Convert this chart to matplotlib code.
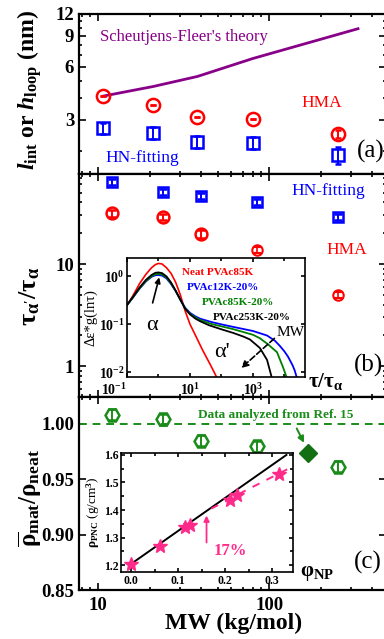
import numpy as np
import matplotlib
matplotlib.use("Agg")
import matplotlib.pyplot as plt
from matplotlib.ticker import FixedLocator, NullFormatter, FuncFormatter

plt.rcParams['font.family'] = ['Liberation Serif', 'DejaVu Serif']
plt.rcParams['font.weight'] = 'bold'
plt.rcParams['mathtext.fontset'] = 'custom'
plt.rcParams['mathtext.rm'] = 'Liberation Serif:bold'
plt.rcParams['mathtext.it'] = 'Liberation Serif:italic:bold'
plt.rcParams['mathtext.bf'] = 'Liberation Serif:bold'

# ---- data ----
# panel (a)
mw_a = [10.7, 21, 38, 80, 253]
hma_a = [4.1, 3.65, 3.12, 3.04, 2.5]
hma_a_err = [0, 0, 0, 0, 0.12]
hn_a = [2.7, 2.53, 2.25, 2.22, 1.9]
hn_a_err = [0.2, 0.2, 0.18, 0.18, 0.22]
theory_mw = [10.7, 21, 38, 80, 330]
theory_h = [4.1, 4.65, 5.3, 6.7, 9.9]

# panel (b)
mw = [12, 24, 40, 85, 253]
hn_b = [63.7, 50.8, 46.4, 40.5, 28.9]
hn_b_err = [4, 3, 3, 2.5, 2]
hma_b = [31.6, 28.9, 19.7, 13.7, 4.97]
hma_b_err = [2.5, 2.2, 1.8, 1.0, 0.35]

# inset (b): relaxation time distributions
tau_red = [0.1, 0.15, 0.25, 0.4, 0.6, 0.8, 1.0, 1.3, 1.8, 2.5, 3.5, 5, 7, 10, 15, 25, 45, 75]
g_red = [0.25, 0.38, 0.7, 1.1, 1.5, 1.75, 1.85, 1.8, 1.5, 1.15, 0.75, 0.4, 0.19, 0.1, 0.058, 0.029, 0.014, 0.0072]
tau_blu = [0.1, 0.15, 0.25, 0.4, 0.6, 0.8, 1.0, 1.3, 1.8, 2.5, 3.5, 5, 7, 10, 15, 21, 50, 100, 230,
           1000, 2800, 5000, 7200, 10000, 13000, 18000, 21000, 25000]
g_blu = [0.25, 0.35, 0.55, 0.78, 0.97, 1.05, 1.06, 1.03, 0.9, 0.69, 0.49, 0.32, 0.22, 0.172, 0.145, 0.13, 0.11,
         0.099, 0.088, 0.072, 0.058, 0.045, 0.035, 0.027, 0.021, 0.014, 0.011, 0.0075]
tau_grn = [0.1, 0.15, 0.25, 0.4, 0.6, 0.8, 1.0, 1.3, 1.8, 2.5, 3.5, 5, 7, 10, 15, 21, 50, 100, 230,
           1000, 1650, 3000, 5800, 9000, 12000]
g_grn = [0.25, 0.355, 0.56, 0.8, 1.0, 1.1, 1.12, 1.09, 0.94, 0.71, 0.5, 0.32, 0.215, 0.165, 0.138, 0.122, 0.1,
         0.09, 0.079, 0.06, 0.051, 0.038, 0.026, 0.0127, 0.0075]
tau_blk = [0.1, 0.15, 0.25, 0.4, 0.6, 0.8, 1.0, 1.3, 1.8, 2.5, 3.5, 5, 7, 10, 15, 21, 40, 100, 230,
           500, 800, 1650, 2800, 4000]
g_blk = [0.25, 0.36, 0.58, 0.84, 1.06, 1.18, 1.2, 1.16, 0.99, 0.74, 0.5, 0.32, 0.21, 0.16, 0.13, 0.115, 0.095,
         0.078, 0.066, 0.055, 0.048, 0.032, 0.018, 0.0075]

# panel (c)
rho_ratio = [1.0081, 1.0042, 0.985, 0.9796, 0.9615]
rho_err = [0.005, 0.005, 0.005, 0.005, 0.005]
ref15_mw = [169]
ref15_ratio = [0.974]

# inset (c)
phi = [0.0, 0.06, 0.115, 0.125, 0.21, 0.225, 0.315]
rho_pnc = [1.205, 1.27, 1.34, 1.345, 1.437, 1.455, 1.53]
fit_phi = [0.0, 0.33]
fit_rho = [1.205, 1.6]
dash_phi = [0.17, 0.21, 0.225, 0.34]
dash_rho = [1.405, 1.44, 1.455, 1.555]

RED = '#ff0000'
BLUE = '#0000ff'
GREEN = '#1a8c1a'
PINK = '#ff2a8a'
PURPLE = '#880088'

W, H = 384, 639
fig = plt.figure(figsize=(W / 100, H / 100), dpi=100)


def box(l, t, r, b):
    return [l / W, 1 - b / H, (r - l) / W, (b - t) / H]


def style(ax, size=13.5):
    ax.tick_params(which='both', direction='in', top=True, right=True, width=1.2, labelsize=size)
    ax.tick_params(which='major', length=5)
    ax.tick_params(which='minor', length=2.5)
    for s in ax.spines.values():
        s.set_linewidth(1.6)


xlim = (7.73, 481)
mw_major = [10, 100]
mw_minor = [8, 9, 20, 30, 40, 50, 60, 70, 80, 90, 200, 300, 400]

ax_a = fig.add_axes(box(79, 14, 386, 174))
ax_b = fig.add_axes(box(79, 174, 386, 397))
ax_c = fig.add_axes(box(79, 397, 386, 590))
for ax in (ax_a, ax_b, ax_c):
    ax.set_xscale('log')
    ax.set_xlim(*xlim)
    ax.xaxis.set_major_locator(FixedLocator(mw_major))
    ax.xaxis.set_minor_locator(FixedLocator(mw_minor))
    ax.xaxis.set_minor_formatter(NullFormatter())
    style(ax)
ax_a.set_xticklabels([])
ax_b.set_xticklabels([])
ax_c.set_xticklabels(['10', '100'])
ax_c.tick_params(axis='x', pad=5, labelsize=13.5)

# (a)
ax_a.set_yscale('log')
ax_a.set_ylim(1.48, 12)
ax_a.yaxis.set_major_locator(FixedLocator([3, 6, 9, 12]))
ax_a.yaxis.set_minor_locator(FixedLocator([2, 4, 5, 7, 8, 10, 11]))
ax_a.yaxis.set_minor_formatter(NullFormatter())
ax_a.set_yticklabels(['3', '6', '9', '12'])
ax_a.plot(theory_mw, theory_h, color=PURPLE, lw=2)
ax_a.errorbar(mw_a, hma_a, yerr=hma_a_err, fmt='o', ms=9.5, mfc='none', mec=RED, mew=1.8,
              ecolor=RED, elinewidth=1.4, capsize=2.5)
ax_a.errorbar(mw_a, hn_a, yerr=hn_a_err, fmt='s', ms=8, mfc='none', mec=BLUE, mew=1.8,
              ecolor=BLUE, elinewidth=1.4, capsize=2.5)
ax_a.text(0.069, 0.856, "Scheutjens-Fleer's theory", transform=ax_a.transAxes, color=PURPLE,
          fontsize=12, fontweight='normal', va='center')
ax_a.text(0.725, 0.444, 'HMA', transform=ax_a.transAxes, color=RED, fontsize=12.5,
          fontweight='normal', va='center')
ax_a.text(0.085, 0.10, 'HN-fitting', transform=ax_a.transAxes, color=BLUE, fontsize=12.5,
          fontweight='normal', va='center')
ax_a.text(0.905, 0.14, '(a)', transform=ax_a.transAxes, fontsize=18, fontweight='normal', va='center')

# (b)
ax_b.set_yscale('log')
ax_b.set_ylim(0.5, 76)
ax_b.yaxis.set_major_locator(FixedLocator([1, 10]))
ax_b.yaxis.set_minor_locator(FixedLocator([0.6, 0.7, 0.8, 0.9, 2, 3, 4, 5, 6, 7, 8, 9, 20, 30, 40, 50, 60, 70]))
ax_b.yaxis.set_minor_formatter(NullFormatter())
ax_b.set_yticklabels(['1', '10'])
ax_b.errorbar(mw, hn_b, yerr=hn_b_err, fmt='s', ms=7.5, mfc='none', mec=BLUE, mew=1.8,
              ecolor=BLUE, elinewidth=1.4, capsize=3)
ax_b.errorbar(mw[:3], hma_b[:3], yerr=hma_b_err[:3], fmt='o', ms=8.5, mfc='none', mec=RED, mew=1.8,
              ecolor=RED, elinewidth=1.4, capsize=3)
ax_b.errorbar(mw[3:], hma_b[3:], yerr=hma_b_err[3:], fmt='o', ms=7.5, mfc='none', mec=RED, mew=1.5,
              ecolor=RED, elinewidth=1.2, capsize=3)
ax_b.text(0.692, 0.924, 'HN-fitting', transform=ax_b.transAxes, color=BLUE, fontsize=12.5,
          fontweight='normal', va='center')
ax_b.text(0.807, 0.659, 'HMA', transform=ax_b.transAxes, color=RED, fontsize=12.5,
          fontweight='normal', va='center')
ax_b.text(0.895, 0.143, '(b)', transform=ax_b.transAxes, fontsize=18, fontweight='normal', va='center')

# inset (b)
ib = fig.add_axes(box(127, 258, 305, 377))
ib.set_xscale('log')
ib.set_yscale('log')
ib.set_xlim(0.1, 4.5e4)
ib.set_ylim(0.0079, 2.4)
ib.plot(tau_red, g_red, color=RED, lw=1.2)
ib.plot(tau_blu, g_blu, color=BLUE, lw=1.3)
ib.plot(tau_grn, g_grn, color='#008000', lw=1.3)
ib.plot(tau_blk, g_blk, color='black', lw=1.3)
ib.xaxis.set_major_locator(FixedLocator([0.1, 10, 1000]))
ib.xaxis.set_minor_locator(FixedLocator([1, 100, 1e4]))
ib.yaxis.set_major_locator(FixedLocator([0.01, 0.1, 1]))
ib.yaxis.set_minor_locator(FixedLocator([]))
pow10 = FuncFormatter(lambda v, p: r'$\mathrm{10^{%d}}$' % round(np.log10(v)))
ib.xaxis.set_major_formatter(pow10)
ib.yaxis.set_major_formatter(pow10)
ib.xaxis.set_minor_formatter(NullFormatter())
style(ib, size=10)
ib.tick_params(which='major', length=3)
ib.tick_params(which='minor', length=2)
ib.tick_params(axis='y', pad=1.5)
ib.tick_params(axis='x', pad=3.5)
for s in ib.spines.values():
    s.set_linewidth(1.2)
fig.canvas.draw()
ib.get_xticklabels()[0].set_horizontalalignment('right')
ib.text(0.309, 0.882, 'Neat PVAc85K', transform=ib.transAxes, color=RED, fontsize=8, va='center')
ib.text(0.337, 0.748, 'PVAc12K-20%', transform=ib.transAxes, color=BLUE, fontsize=8, va='center')
ib.text(0.421, 0.622, 'PVAc85K-20%', transform=ib.transAxes, color='#008000', fontsize=8, va='center')
ib.text(0.483, 0.504, 'PVAc253K-20%', transform=ib.transAxes, color='black', fontsize=8, va='center')
ib.text(0.14, 0.43, 'α', transform=ib.transAxes, fontsize=16, fontweight='normal', ha='center', va='center')
ib.text(0.534, 0.21, "α'", transform=ib.transAxes, fontsize=16, fontweight='normal', ha='center', va='center')
ib.text(0.92, 0.37, 'MW', transform=ib.transAxes, fontsize=11, fontweight='normal', ha='center', va='center')
ib.annotate('', xy=(0.185, 0.86), xytext=(0.14, 0.6), xycoords='axes fraction',
            arrowprops=dict(arrowstyle='-|>', color='black', lw=1.2, mutation_scale=8))
ib.annotate('', xy=(0.63, 0.06), xytext=(0.84, 0.34), xycoords='axes fraction',
            arrowprops=dict(arrowstyle='-|>', color='black', lw=1.2, ls='--', mutation_scale=10))
ib.set_ylabel('Δε*g(lnτ)', fontsize=10.5, labelpad=1)
fig.text(308 / W, 1 - 382 / H, r'$\mathrm{τ/τ_{α}}$', fontsize=15, va='center')

# (c)
ax_c.set_ylim(0.85, 1.0243)
ax_c.yaxis.set_major_locator(FixedLocator([0.85, 0.90, 0.95, 1.00]))
ax_c.yaxis.set_minor_locator(FixedLocator([]))
ax_c.set_yticklabels(['0.85', '0.90', '0.95', '1.00'])
ax_c.axhline(1.0, color=GREEN, lw=1.4, ls=(0, (4, 3)))
ax_c.errorbar(mw, rho_ratio, yerr=rho_err, fmt='H', ms=10, mfc='none', mec=GREEN, mew=1.8,
              ecolor=GREEN, elinewidth=1.4, capsize=3)
ax_c.plot(ref15_mw, ref15_ratio, 'D', color='#127012', ms=9)
ax_c.text(0.387, 0.905, 'Data analyzed from Ref. 15', transform=ax_c.transAxes, color=GREEN,
          fontsize=9.5, va='center')
ax_c.annotate('', xy=(0.737, 0.75), xytext=(0.705, 0.85), xycoords='axes fraction',
              arrowprops=dict(arrowstyle='-|>', color=GREEN, lw=1.4, mutation_scale=9))
ax_c.text(0.895, 0.145, '(c)', transform=ax_c.transAxes, fontsize=18, fontweight='normal', va='center')

# inset (c)
ic = fig.add_axes(box(121, 453, 293, 572))
ic.set_xlim(-0.022, 0.344)
ic.set_ylim(1.175, 1.607)
ic.plot(fit_phi, fit_rho, color='black', lw=1.4)
ic.plot(dash_phi, dash_rho, color=PINK, lw=1.4, ls=(0, (4, 4)))
ic.plot(phi, rho_pnc, '*', color=PINK, ms=10, mec=PINK)
ic.annotate('', xy=(0.16, 1.39), xytext=(0.16, 1.272),
            arrowprops=dict(arrowstyle='-|>', color=PINK, lw=1.3, mutation_scale=8))
ic.text(0.21, 1.253, '17%', color=PINK, fontsize=12, ha='center', va='center')
ic.xaxis.set_major_locator(FixedLocator([0.0, 0.1, 0.2, 0.3]))
ic.xaxis.set_minor_locator(FixedLocator([0.05, 0.15, 0.25]))
ic.yaxis.set_major_locator(FixedLocator([1.2, 1.3, 1.4, 1.5, 1.6]))
ic.yaxis.set_minor_locator(FixedLocator([1.25, 1.35, 1.45, 1.55]))
ic.set_xticklabels(['0.0', '0.1', '0.2', '0.3'])
ic.set_yticklabels(['1.2', '1.3', '1.4', '1.5', '1.6'])
style(ic, size=8.5)
ic.tick_params(which='major', length=3)
ic.tick_params(which='minor', length=2)
ic.tick_params(axis='both', pad=2)
for s in ic.spines.values():
    s.set_linewidth(1.2)
ic.set_ylabel(r'$\mathrm{ρ_{PNC}}$ (g/cm$^{\mathrm{3}}$)', fontsize=9.5, labelpad=1)
fig.text(300 / W, 1 - 573 / H, r'$\mathrm{φ_{NP}}$', fontsize=15, va='center')

# main labels
fig.text(30 / W, 1 - 90 / H, r'$l_{\mathrm{int}}$ or $h_{\mathrm{loop}}$ (nm)', rotation=90,
         fontsize=17, ha='center', va='center')
fig.text(30 / W, 1 - 296 / H, r"$\mathrm{τ_{α'}/τ_{α}}$", rotation=90, fontsize=19,
         ha='center', va='center')
fig.text(30 / W, 1 - 498 / H, r'$\overline{\mathrm{ρ}}_{\mathrm{mat}}/\mathrm{ρ}_{\mathrm{neat}}$', rotation=90,
         fontsize=18, ha='center', va='center')
fig.text(234 / W, 1 - 623 / H, 'MW (kg/mol)', fontsize=17, ha='center', va='center')

fig.savefig('out.png', dpi=100)
